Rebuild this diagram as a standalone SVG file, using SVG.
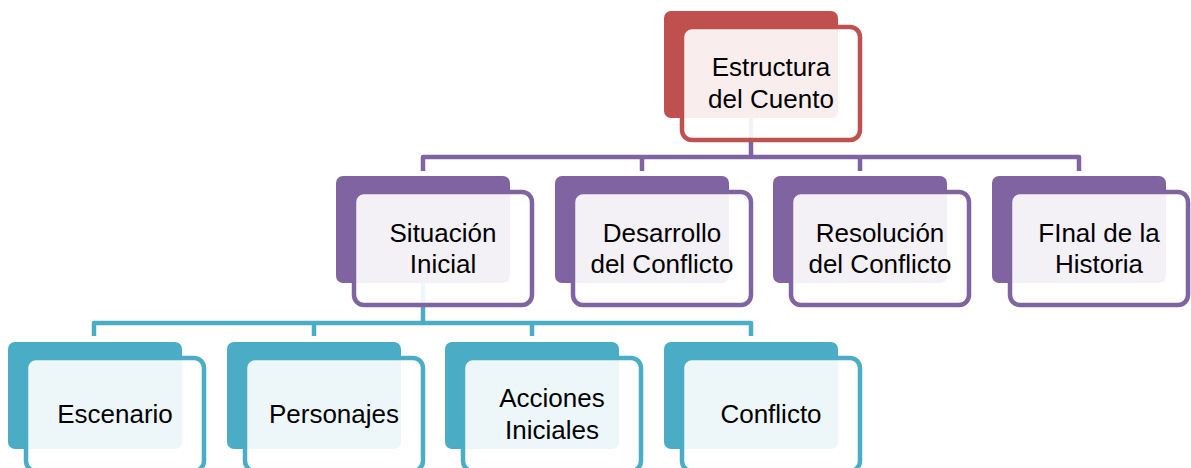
<svg xmlns="http://www.w3.org/2000/svg" width="1191" height="468" viewBox="0 0 1191 468">
<style>
.bk{stroke:none}
.fr{fill:#ffffff;fill-opacity:0.9;stroke-width:4.5}
.red .bk{fill:#C0504D}.red .fr{stroke:#C0504D}
.pur .bk{fill:#8064A2}.pur .fr{stroke:#8064A2}
.tea .bk{fill:#4BACC6}.tea .fr{stroke:#4BACC6}
text{font-family:"Liberation Sans",Arial,sans-serif;font-size:26px;fill:#000;text-anchor:middle}
.cp{fill:none;stroke:#8064A2;stroke-width:4.5;stroke-linejoin:round}
.ct{fill:none;stroke:#4BACC6;stroke-width:4.5;stroke-linejoin:round}
</style>
<rect width="1191" height="468" fill="#ffffff"/>
<g id="connectors">
<path class="cp" d="M751,116 V157 M423,171 V157 H1079 V171 M642,157 V171 M860,157 V171"/>
<path class="ct" d="M423,282 V323 M94,336 V323 H751 V336 M314,323 V336 M532,323 V336"/>
</g>
<g id="n-estructura" class="red">
<rect class="bk" x="664" y="11" width="174" height="107" rx="7"/>
<rect class="fr" x="682" y="27" width="178" height="113" rx="10"/>
<text x="771" y="76">Estructura</text><text x="771" y="108">del Cuento</text>
</g>
<g id="n-situacion" class="pur">
<rect class="bk" x="336" y="176" width="174" height="107" rx="7"/>
<rect class="fr" x="354" y="192" width="178" height="113" rx="10"/>
<text x="443" y="242">Situación</text><text x="443" y="273">Inicial</text>
</g>
<g id="n-desarrollo" class="pur">
<rect class="bk" x="555" y="176" width="174" height="107" rx="7"/>
<rect class="fr" x="573" y="192" width="178" height="113" rx="10"/>
<text x="662" y="242">Desarrollo</text><text x="662" y="273">del Conflicto</text>
</g>
<g id="n-resolucion" class="pur">
<rect class="bk" x="773" y="176" width="174" height="107" rx="7"/>
<rect class="fr" x="791" y="192" width="178" height="113" rx="10"/>
<text x="880" y="242">Resolución</text><text x="880" y="273">del Conflicto</text>
</g>
<g id="n-final" class="pur">
<rect class="bk" x="992" y="176" width="174" height="107" rx="7"/>
<rect class="fr" x="1010" y="192" width="178" height="113" rx="10"/>
<text x="1099" y="242">FInal de la</text><text x="1099" y="273">Historia</text>
</g>
<g id="n-escenario" class="tea">
<rect class="bk" x="8" y="342" width="174" height="107" rx="7"/>
<rect class="fr" x="26" y="358" width="178" height="113" rx="10"/>
<text x="115" y="423">Escenario</text>
</g>
<g id="n-personajes" class="tea">
<rect class="bk" x="227" y="342" width="174" height="107" rx="7"/>
<rect class="fr" x="245" y="358" width="178" height="113" rx="10"/>
<text x="334" y="423">Personajes</text>
</g>
<g id="n-acciones" class="tea">
<rect class="bk" x="445" y="342" width="174" height="107" rx="7"/>
<rect class="fr" x="463" y="358" width="178" height="113" rx="10"/>
<text x="552" y="407">Acciones</text><text x="552" y="439">Iniciales</text>
</g>
<g id="n-conflicto" class="tea">
<rect class="bk" x="664" y="342" width="174" height="107" rx="7"/>
<rect class="fr" x="682" y="358" width="178" height="113" rx="10"/>
<text x="771" y="423">Conflicto</text>
</g>
</svg>
